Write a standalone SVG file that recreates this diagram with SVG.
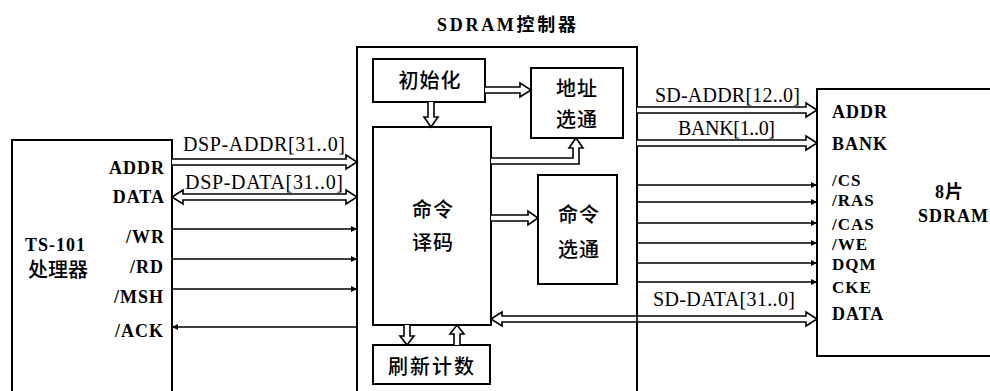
<svg xmlns="http://www.w3.org/2000/svg" width="990" height="391" viewBox="0 0 990 391">
<defs>
<style>
.box{fill:none;stroke:#000;stroke-width:2}
.wire{fill:none;stroke:#000;stroke-width:1.6}
.bus{fill:#fff;stroke:#000;stroke-width:1.6;stroke-linejoin:miter}
.port{font-family:"Liberation Serif","Noto Sans CJK SC",serif;font-size:18px;font-weight:bold;letter-spacing:1px;fill:#000}
.sig{font-size:17px}
.lbl{font-family:"Liberation Serif","Noto Sans CJK SC",serif;font-size:20px;fill:#000}
.cjk{font-family:"Noto Sans CJK SC",sans-serif;font-size:20px;font-weight:500;letter-spacing:1px;fill:#000;text-anchor:middle}
</style>
<marker id="ah" viewBox="0 0 10 10" refX="10" refY="5" markerWidth="8" markerHeight="6" orient="auto" markerUnits="userSpaceOnUse"><path d="M0,0 L10,5 L0,10 z" fill="#000"/></marker>
</defs>
<rect width="990" height="391" fill="#fff"/>

<g id="ts101">
<path class="box" d="M12,400 V140 H172 V400"/>
<text class="port" x="25" y="251" font-size="19">TS-101</text>
<text class="cjk" x="58" y="277" style="letter-spacing:0">处理器</text>
<g class="port" text-anchor="end">
<text x="165" y="174">ADDR</text>
<text x="165" y="203">DATA</text>
<text x="165" y="243">/WR</text>
<text x="164" y="273">/RD</text>
<text x="164" y="303">/MSH</text>
<text x="164" y="337">/ACK</text>
</g>
</g>

<g id="controller">
<path class="box" d="M357,400 V47 H637 V400"/>
<text class="port" x="437" y="31" font-size="19" textLength="140" lengthAdjust="spacing">SDRAM控制器</text>
</g>

<g id="init">
<rect class="box" x="373" y="59" width="112" height="43"/>
<text class="cjk" x="430" y="88">初始化</text>
</g>

<g id="addrsel">
<rect class="box" x="531" y="68" width="92" height="70"/>
<text class="cjk" x="577" y="96">地址</text>
<text class="cjk" x="577" y="127">选通</text>
</g>

<g id="decode">
<rect class="box" x="373" y="127" width="118" height="198"/>
<text class="cjk" x="433" y="217">命令</text>
<text class="cjk" x="433" y="250">译码</text>
</g>

<g id="cmdsel">
<rect class="box" x="538" y="175" width="79" height="109"/>
<text class="cjk" x="579" y="222">命令</text>
<text class="cjk" x="579" y="257">选通</text>
</g>

<g id="refresh">
<rect class="box" x="373" y="345" width="117" height="39"/>
<text class="cjk" x="432" y="374" font-size="21" style="letter-spacing:2px">刷新计数</text>
</g>

<g id="sdram">
<path class="box" d="M995,89 H817 V356 H995"/>
<text class="port" x="935" y="198">8片</text>
<text class="port" x="918" y="222" font-size="19">SDRAM</text>
<g class="port">
<text x="832" y="118">ADDR</text>
<text x="832" y="150">BANK</text>
<text class="sig" x="832" y="186">/CS</text>
<text class="sig" x="832" y="206">/RAS</text>
<text class="sig" x="832" y="230">/CAS</text>
<text class="sig" x="832" y="250">/WE</text>
<text class="sig" x="832" y="270">DQM</text>
<text class="sig" x="832" y="293">CKE</text>
<text x="832" y="320">DATA</text>
</g>
</g>

<g id="connectors">
<path class="bus" d="M172,159 H346 V155 L357,162 L346,169 V165 H172"/>
<path class="bus" d="M183,194 H346 V190 L357,197 L346,204 V200 H183 V204 L172,197 L183,190 Z"/>
<text class="lbl" x="183" y="151" textLength="162" lengthAdjust="spacing">DSP-ADDR[31..0]</text>
<text class="lbl" x="185" y="189" textLength="158" lengthAdjust="spacing">DSP-DATA[31..0]</text>
<line class="wire" x1="172" y1="229" x2="357" y2="229" marker-end="url(#ah)"/>
<line class="wire" x1="172" y1="259" x2="357" y2="259" marker-end="url(#ah)"/>
<line class="wire" x1="172" y1="289" x2="357" y2="289" marker-end="url(#ah)"/>
<line class="wire" x1="357" y1="327" x2="172" y2="327" marker-end="url(#ah)"/>
<path class="bus" d="M485,87 H520 V83 L531,90 L520,97 V93 H485"/>
<path class="bus" d="M428,102 V117 H424 L431,127 L438,117 H434 V102"/>
<path class="bus" d="M491,158 H573 V148 H569 L576,138 L583,148 H579 V164 H491"/>
<path class="bus" d="M491,215 H528 V211 L538,218 L528,225 V221 H491"/>
<path class="bus" d="M404,325 V336 H400 L407,345 L414,336 H410 V325"/>
<path class="bus" d="M454,345 V334 H450 L457,325 L464,334 H460 V345"/>
<path class="bus" d="M637,107 H806 V103 L817,110 L806,117 V113 H637"/>
<path class="bus" d="M637,140 H806 V136 L817,143 L806,150 V146 H637"/>
<path class="bus" d="M502,316 H806 V312 L817,319 L806,326 V322 H502 V326 L491,319 L502,312 Z"/>
<line class="wire" x1="637" y1="312" x2="637" y2="326"/>
<text class="lbl" x="655" y="102" textLength="145" lengthAdjust="spacing">SD-ADDR[12..0]</text>
<text class="lbl" x="678" y="135" textLength="97" lengthAdjust="spacing">BANK[1..0]</text>
<text class="lbl" x="653" y="306" textLength="142" lengthAdjust="spacing">SD-DATA[31..0]</text>
<line class="wire" x1="637" y1="185" x2="817" y2="185" marker-end="url(#ah)"/>
<line class="wire" x1="637" y1="202" x2="817" y2="202" marker-end="url(#ah)"/>
<line class="wire" x1="637" y1="223" x2="817" y2="223" marker-end="url(#ah)"/>
<line class="wire" x1="637" y1="243" x2="817" y2="243" marker-end="url(#ah)"/>
<line class="wire" x1="637" y1="263" x2="817" y2="263" marker-end="url(#ah)"/>
<line class="wire" x1="637" y1="282" x2="817" y2="282" marker-end="url(#ah)"/>
</g>
</svg>
